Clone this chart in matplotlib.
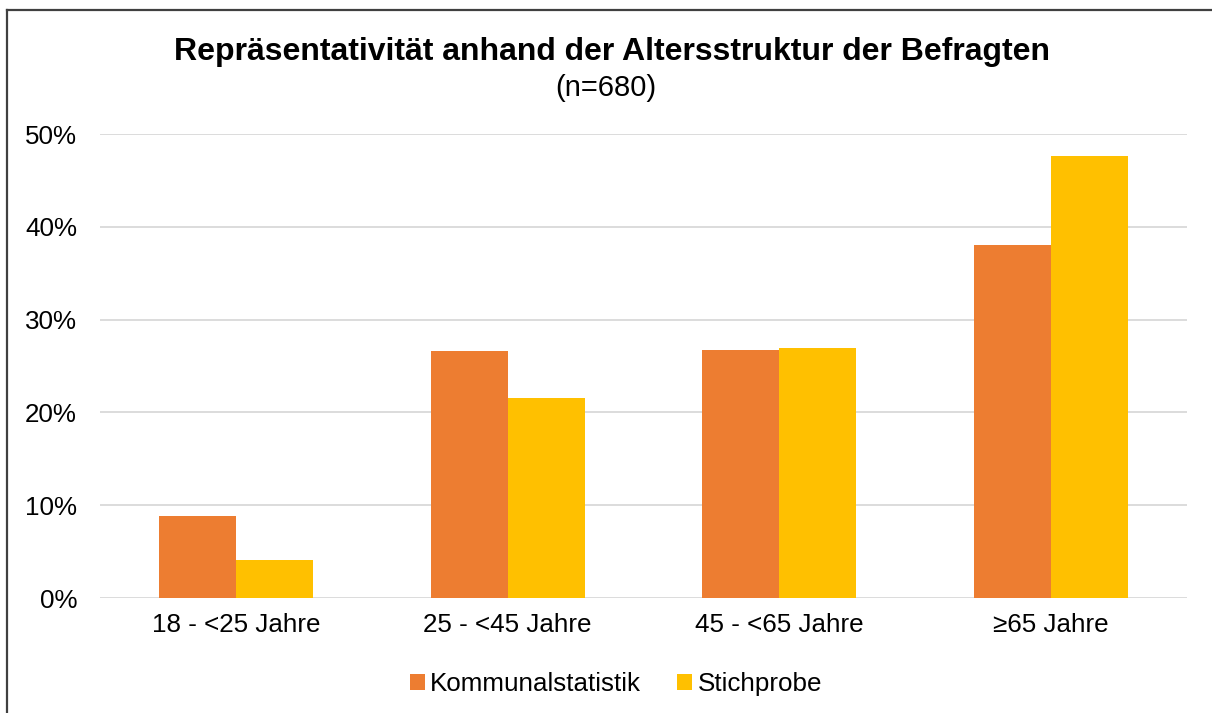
import matplotlib.pyplot as plt
import numpy as np
from matplotlib.lines import Line2D
from matplotlib.ticker import PercentFormatter

plt.rcParams['font.family'] = ['Liberation Sans', 'DejaVu Sans']

categories = ["18 - <25 Jahre", "25 - <45 Jahre", "45 - <65 Jahre", "≥65 Jahre"]
kommunal = [8.8, 26.6, 26.7, 38.0]
stichprobe = [4.1, 21.5, 26.9, 47.6]

fig = plt.figure(figsize=(12.12, 7.13), dpi=100)
ax = fig.add_axes([100 / 1212, 1 - 598 / 713, 1087 / 1212, 464 / 713])

x = np.arange(len(categories))
w = 0.283
ax.bar(x - w / 2, kommunal, w, color='#ED7D31', label='Kommunalstatistik', zorder=3)
ax.bar(x + w / 2, stichprobe, w, color='#FFC000', label='Stichprobe', zorder=3)

ax.set_xlim(-0.5, 3.5)
ax.set_ylim(0, 50)
ax.set_yticks(np.arange(0, 51, 10))
ax.yaxis.set_major_formatter(PercentFormatter(decimals=0))
ax.set_xticks(x)
ax.set_xticklabels(categories)
ax.grid(axis='y', color='#D9D9D9', linewidth=1.3, zorder=0)
for s in ax.spines.values():
    s.set_visible(False)
ax.tick_params(length=0, labelsize=18.7, colors='#000000')
ax.tick_params(axis='x', pad=11)
ax.tick_params(axis='y', pad=16.5)

fig.text(0.505, 1 - 60 / 713, "Repräsentativität anhand der Altersstruktur der Befragten",
         ha='center', va='baseline', fontsize=23, fontweight='bold')
fig.text(0.5, 1 - 96.5 / 713, "(n=680)", ha='center', va='baseline', fontsize=21)

fig.legend(loc='center', bbox_to_anchor=(0.508, 1 - 684 / 713), ncol=2, frameon=False,
           fontsize=18.7, handlelength=0.58, handleheight=0.58, handletextpad=0.2,
           columnspacing=1.4)

fig.add_artist(Line2D([7 / 1212, 7 / 1212], [0, 1 - 10 / 713], color='#404040', lw=1.6))
fig.add_artist(Line2D([7 / 1212, 1], [1 - 10 / 713, 1 - 10 / 713], color='#404040', lw=1.6))

fig.savefig('out.png', dpi=100)
